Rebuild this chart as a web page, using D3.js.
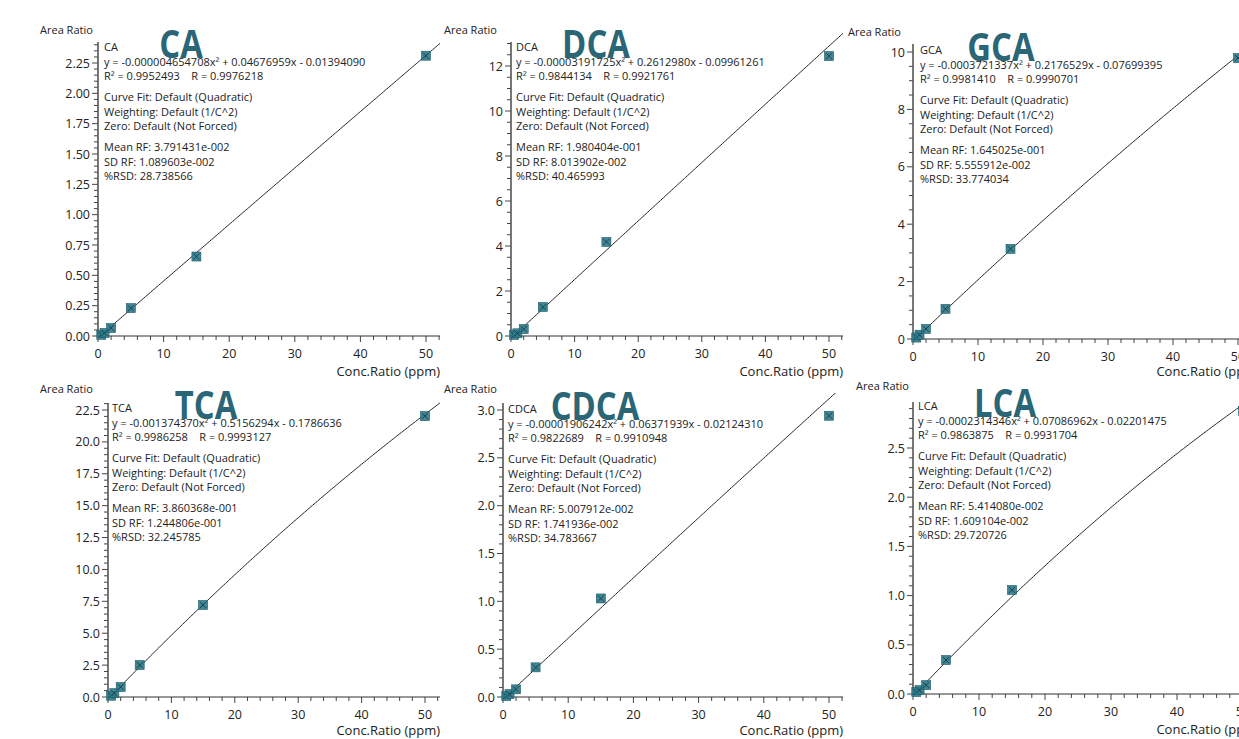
<!DOCTYPE html>
<html>

<head>
  <title>Calibration curves</title>
  <script src="https://cdn.jsdelivr.net/npm/d3@7"></script>
  <style>
    body { margin: 0; background: #fff; }
    text { font-family: 'Open Sans', 'Noto Sans', sans-serif; fill: #222; }
  </style>
</head>

<body>
  <svg width="1239" height="739" id="mainsvg"></svg>
  <script>
    const svg = d3.select('#mainsvg');

    // data
    const compounds = ['CA', 'DCA', 'GCA', 'TCA', 'CDCA', 'LCA'];
    const conc = [0.5, 1, 2, 5, 15, 50];
    const areaCA = [0.01, 0.025, 0.066, 0.23, 0.655, 2.31];
    const areaDCA = [0.05, 0.12, 0.31, 1.29, 4.18, 12.44];
    const areaGCA = [0.05, 0.15, 0.35, 1.05, 3.14, 9.79];
    const areaTCA = [0.1, 0.3, 0.78, 2.51, 7.21, 22.02];
    const areaCDCA = [0.01, 0.03, 0.08, 0.31, 1.03, 2.94];
    const areaLCA = [0.02, 0.04, 0.09, 0.345, 1.057, 2.876];
    const areas = [areaCA, areaDCA, areaGCA, areaTCA, areaCDCA, areaLCA];

    // fit coefficients y = a x^2 + b x + c
    const coefA = [-0.000004654708, -0.00003191725, -0.0003721337, -0.001374370, -0.00001906242, -0.0002314346];
    const coefB = [0.04676959, 0.2612980, 0.2176529, 0.5156294, 0.06371939, 0.07086962];
    const coefC = [-0.01394090, -0.09961261, -0.07699395, -0.1786636, -0.02124310, -0.02201475];
    const eqText = [
      'y = -0.000004654708x² + 0.04676959x - 0.01394090',
      'y = -0.00003191725x² + 0.2612980x - 0.09961261',
      'y = -0.0003721337x² + 0.2176529x - 0.07699395',
      'y = -0.001374370x² + 0.5156294x - 0.1786636',
      'y = -0.00001906242x² + 0.06371939x - 0.02124310',
      'y = -0.0002314346x² + 0.07086962x - 0.02201475'
    ];
    const r2Text = ['0.9952493', '0.9844134', '0.9981410', '0.9986258', '0.9822689', '0.9863875'];
    const rText = ['0.9976218', '0.9921761', '0.9990701', '0.9993127', '0.9910948', '0.9931704'];
    const meanRF = ['3.791431e-002', '1.980404e-001', '1.645025e-001', '3.860368e-001', '5.007912e-002', '5.414080e-002'];
    const sdRF = ['1.089603e-002', '8.013902e-002', '5.555912e-002', '1.244806e-001', '1.741936e-002', '1.609104e-002'];
    const rsd = ['28.738566', '40.465993', '33.774034', '32.245785', '34.783667', '29.720726'];

    // y tick settings per panel
    const yMajor = [0.25, 2, 2, 2.5, 0.5, 0.5];
    const yMinor = [0.05, 0.5, 0.5, 0.5, 0.1, 0.1];
    const yMaxTick = [2.25, 12, 10, 22.5, 3.0, 2.5];
    const yFmt = ['.2f', 'd', 'd', '.1f', '.1f', '.1f'];

    // layout (pixels)
    const layout = [
      { x0: 98, x50: 426, xEnd: 440, y0: 336, yRef: 63, yTop: 42, titleX: 181, txtX: 104, txtY: 47, labX: 40, labY: 34, xLabDy: 40 },
      { x0: 511, x50: 829, xEnd: 843, y0: 336, yRef: 66, yTop: 42, titleX: 596, txtX: 516, txtY: 47, labX: 444, labY: 34, xLabDy: 40 },
      { x0: 913, x50: 1238, xEnd: 1260, y0: 339, yRef: 52, yTop: 44, titleX: 1001, txtX: 920, txtY: 50, labX: 848, labY: 36, xLabDy: 37 },
      { x0: 108, x50: 425, xEnd: 440, y0: 697, yRef: 410, yTop: 403, titleX: 206, txtX: 112, txtY: 408, labX: 40, labY: 393, xLabDy: 38 },
      { x0: 503, x50: 829, xEnd: 843, y0: 697, yRef: 410, yTop: 403, titleX: 595, txtX: 508, txtY: 409, labX: 444, labY: 393, xLabDy: 38 },
      { x0: 913, x50: 1243, xEnd: 1260, y0: 694, yRef: 448, yTop: 402, titleX: 1005, txtX: 918, txtY: 406, labX: 856, labY: 390, xLabDy: 40 }
    ];

    const teal = '#2b7a8b';

    compounds.forEach((name, i) => {
      const L = layout[i];
      const g = svg.append('g');
      const x = d3.scaleLinear().domain([0, 50]).range([L.x0, L.x50]);
      const y = d3.scaleLinear().domain([0, yMaxTick[i]]).range([L.y0, L.yRef]);
      const xMaxV = x.invert(L.xEnd);
      const yMaxV = y.invert(L.yTop);

      // clip
      const clipId = 'clip' + i;
      svg.append('clipPath').attr('id', clipId).append('rect')
        .attr('x', L.x0).attr('y', L.yTop - 10)
        .attr('width', L.xEnd - L.x0).attr('height', L.y0 - L.yTop + 10);

      // x axis
      const xMinorTicks = d3.range(0, xMaxV, 2);
      g.selectAll('.xminor').data(xMinorTicks).join('line')
        .attr('x1', d => x(d)).attr('x2', d => x(d))
        .attr('y1', L.y0).attr('y2', d => L.y0 + (d % 10 === 0 ? 6 : 4))
        .attr('stroke', '#444').attr('stroke-width', 1);
      g.append('line')
        .attr('x1', L.x0).attr('x2', L.xEnd).attr('y1', L.y0).attr('y2', L.y0)
        .attr('stroke', '#333').attr('stroke-width', 1.2);
      g.selectAll('.xlab').data(d3.range(0, 51, 10)).join('text')
        .attr('x', d => x(d)).attr('y', L.y0 + 22)
        .attr('text-anchor', 'middle').attr('font-size', 12.5)
        .text(d => d);
      g.append('text')
        .attr('x', Math.min(L.xEnd, 1262)).attr('y', L.y0 + L.xLabDy)
        .attr('text-anchor', 'end').attr('font-size', 13)
        .text('Conc.Ratio (ppm)');

      // y axis
      const yMinorTicks = d3.range(0, yMaxV + 1e-9, yMinor[i]);
      g.selectAll('.yminor').data(yMinorTicks).join('line')
        .attr('x1', L.x0).attr('x2', d => {
          const k = d / yMajor[i];
          return L.x0 - (Math.abs(k - Math.round(k)) < 1e-6 ? 6 : 4);
        })
        .attr('y1', d => y(d)).attr('y2', d => y(d))
        .attr('stroke', '#444').attr('stroke-width', 1);
      g.append('line')
        .attr('x1', L.x0).attr('x2', L.x0).attr('y1', L.yTop).attr('y2', L.y0)
        .attr('stroke', '#555').attr('stroke-width', 1.6);
      const fmt = d3.format(yFmt[i]);
      g.selectAll('.ylab').data(d3.range(0, yMaxTick[i] + 1e-9, yMajor[i])).join('text')
        .attr('x', L.x0 - 8).attr('y', d => y(d) + 4.5)
        .attr('text-anchor', 'end').attr('font-size', 12.5)
        .text(d => fmt(d));
      g.append('text')
        .attr('x', L.labX).attr('y', L.labY)
        .attr('font-size', 11).text('Area Ratio');

      // fit curve
      const xs = d3.range(0, xMaxV + 0.25, 0.25);
      const curve = xs.map(v => [v, coefA[i] * v * v + coefB[i] * v + coefC[i]]);
      g.append('path')
        .datum(curve)
        .attr('clip-path', `url(#${clipId})`)
        .attr('fill', 'none').attr('stroke', '#222').attr('stroke-width', 1)
        .attr('d', d3.line().x(d => x(d[0])).y(d => y(Math.max(d[1], 0))));

      // points
      const pts = conc.map((c, j) => [c, areas[i][j]]);
      const s = 4.5;
      const pg = g.selectAll('.pt').data(pts).join('g')
        .attr('transform', d => `translate(${x(d[0])},${y(d[1])})`);
      pg.append('rect')
        .attr('x', -s).attr('y', -s).attr('width', 2 * s).attr('height', 2 * s)
        .attr('fill', teal).attr('fill-opacity', 0.9)
        .attr('stroke', '#1f5a68').attr('stroke-width', 0.6);
      pg.append('path')
        .attr('d', `M${-s + 1.5},${-s + 1.5}L${s - 1.5},${s - 1.5}M${s - 1.5},${-s + 1.5}L${-s + 1.5},${s - 1.5}`)
        .attr('stroke', '#16343c').attr('stroke-width', 0.8);

      // info text
      const lines = [
        [name, 0], [eqText[i], 14.5], ['R² = ' + r2Text[i] + '    R = ' + rText[i], 29],
        ['Curve Fit: Default (Quadratic)', 50], ['Weighting: Default (1/C^2)', 64.5], ['Zero: Default (Not Forced)', 79],
        ['Mean RF: ' + meanRF[i], 100], ['SD RF: ' + sdRF[i], 114.5], ['%RSD: ' + rsd[i], 129]
      ];
      g.selectAll('.info').data(lines).join('text')
        .attr('x', L.txtX).attr('y', d => L.txtY + d[1] + 4)
        .attr('font-size', 11)
        .attr('xml:space', 'preserve')
        .style('white-space', 'pre')
        .text(d => d[0]);

      // title (condensed look)
      g.append('text')
        .attr('transform', `translate(${L.titleX},${L.txtY + 11}) scale(0.82,1)`)
        .attr('text-anchor', 'middle')
        .attr('font-family', 'Roboto, sans-serif')
        .attr('font-weight', 'bold').attr('font-size', 40)
        .style('fill', '#2a6676')
        .text(name);
    });
  </script>
</body>

</html>
